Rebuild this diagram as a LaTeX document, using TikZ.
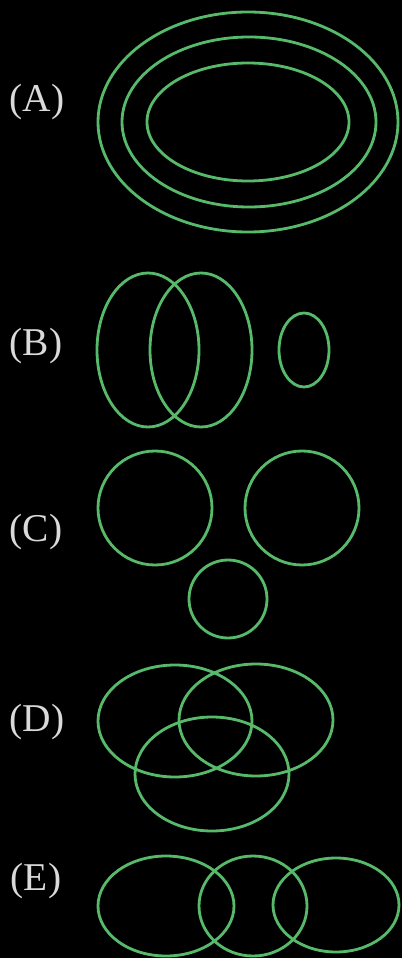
\documentclass[tikz,border=0pt]{standalone}
\usepackage{tikz}
\usepackage{fontspec}
\newfontfamily\lblfont{Liberation Serif}

\definecolor{ringgreen}{RGB}{86,186,106}
\definecolor{lblgray}{RGB}{218,218,218}

\begin{document}
\begin{tikzpicture}[
        x=0.025cm, y=-0.025cm,
        ring/.style={draw=ringgreen, line width=2pt},
        lbl/.style={text=lblgray, font=\lblfont\fontsize{28}{30}\selectfont, inner sep=0pt}
    ]
        % background
        \fill[black] (0,0) rectangle (402,958);
        \useasboundingbox (0,0) rectangle (402,958);

        % labels
        \node[lbl] (labA) at (37,102) {(A)};
        \node[lbl] (labB) at (36,346) {(B)};
        \node[lbl] (labC) at (36,532) {(C)};
        \node[lbl] (labD) at (37,722) {(D)};
        \node[lbl] (labE) at (36,881) {(E)};

        % (A) nested
        \draw[ring] (248,122) ellipse (150 and 110);
        \draw[ring] (249,122) ellipse (127 and 85);
        \draw[ring] (248,122) ellipse (101 and 59);

        % (B)
        \draw[ring] (148,350) ellipse (51 and 77);
        \draw[ring] (201,350) ellipse (51 and 77);
        \draw[ring] (304,350) ellipse (25 and 37);

        % (C)
        \draw[ring] (155,508) circle (57);
        \draw[ring] (302,508) circle (57);
        \draw[ring] (228,599) circle (39);

        % (D)
        \draw[ring] (175,721) ellipse (77 and 56);
        \draw[ring] (256,720) ellipse (77 and 56);
        \draw[ring] (212,774) ellipse (77 and 57);

        % (E)
        \draw[ring] (166,906) ellipse (68 and 50);
        \draw[ring] (253,906) ellipse (54 and 50);
        \draw[ring] (336,905) ellipse (63 and 47);
    \end{tikzpicture}
\end{document}
